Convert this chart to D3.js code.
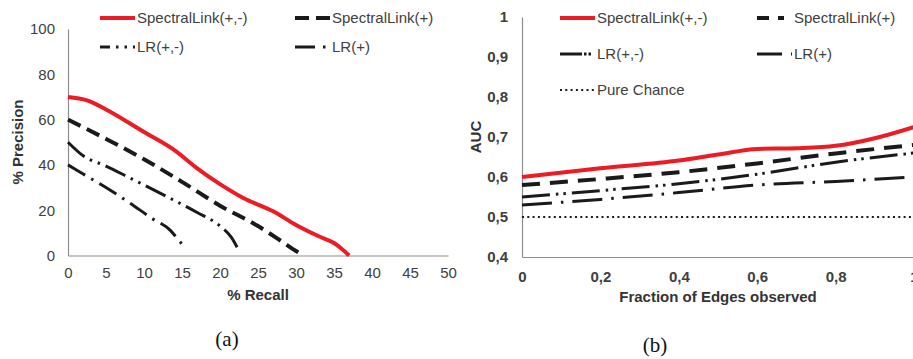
<!DOCTYPE html>
<html>
<head>
<meta charset="utf-8">
<script src="https://cdn.jsdelivr.net/npm/d3@7"></script>
<style>
  body { margin: 0; background: #fff; }
  svg { display: block; font-family: "Liberation Sans", Arial, sans-serif; }
</style>
</head>
<body>
<div id="chrt"></div>
<script>
// ---- data: (a) precision / recall ----
const recallTicks = [0, 5, 10, 15, 20, 25, 30, 35, 40, 45, 50];
const precisionTicks = [0, 20, 40, 60, 80, 100];
const prSpectralPM = [[0, 70], [2.5, 68.5], [5, 64.5], [10, 54.5], [14, 46.5], [17, 38.5], [20, 31.5], [23, 25.5], [27, 19.5], [30, 13.5], [33, 8.5], [35, 5.5], [36, 3], [37, 0]];
const prSpectralP = [[0, 60], [5, 51.5], [10, 42.5], [15, 32.5], [20, 22], [25, 13], [28, 6.5], [30, 2], [31, 0]];
const prLrPM = [[0, 50], [2, 44], [5, 39.5], [8, 34.5], [13, 26], [17, 19], [20, 13], [21.5, 8], [22.5, 2]];
const prLrP = [[0, 40], [2, 36], [5, 30], [8, 23.5], [11, 16.5], [13.5, 11], [14.5, 7], [15.5, 3]];

// ---- data: (b) AUC vs fraction of edges ----
const fracTicks = [0, 0.2, 0.4, 0.6, 0.8, 1];
const aucTicks = [0.4, 0.5, 0.6, 0.7, 0.8, 0.9, 1];
const aucSpectralPM = [[0, 0.6], [0.2, 0.622], [0.4, 0.641], [0.5, 0.656], [0.6, 0.67], [0.7, 0.672], [0.8, 0.678], [0.9, 0.697], [1, 0.725]];
const aucSpectralP = [[0, 0.58], [0.2, 0.595], [0.4, 0.612], [0.6, 0.634], [0.8, 0.659], [1, 0.68]];
const aucLrPM = [[0, 0.55], [0.2, 0.566], [0.4, 0.583], [0.6, 0.607], [0.8, 0.637], [1, 0.66]];
const aucLrP = [[0, 0.53], [0.2, 0.544], [0.4, 0.561], [0.6, 0.58], [0.8, 0.589], [1, 0.6]];
const aucChance = [[0, 0.5], [1, 0.5]];

const RED = '#ec1c24';
const BLK = '#1a1a1a';
const AXIS = '#8c8c8c';
const TXT = '#404040';

const svg = d3.select('#chrt').append('svg')
    .attr('width', 913)
    .attr('height', 359);

function drawPanel(cfg) {
  const g = svg.append('g');
  const xAxis = d3.axisBottom(cfg.x).tickValues(cfg.xTicks).tickSize(0).tickPadding(cfg.xPad).tickFormat(cfg.fmt);
  const yAxis = d3.axisLeft(cfg.y).tickValues(cfg.yTicks).tickSize(0).tickPadding(cfg.yPad).tickFormat(cfg.fmt);

  const gx = g.append('g').attr('transform', 'translate(0,' + cfg.y.range()[0] + ')').call(xAxis);
  const gy = g.append('g').attr('transform', 'translate(' + cfg.x.range()[0] + ',0)').call(yAxis);
  [gx, gy].forEach((a) => {
    a.select('.domain').attr('stroke', AXIS).attr('stroke-width', 1.2);
    a.selectAll('text')
        .attr('fill', TXT)
        .style('font-size', '15px')
        .style('font-family', '"Liberation Sans", Arial, sans-serif')
        .style('font-weight', cfg.boldTicks ? 'bold' : 'normal');
  });

  // lines
  g.selectAll('.series')
      .data(cfg.series)
      .enter()
      .append('path')
      .attr('fill', 'none')
      .attr('stroke', (d) => d.color)
      .attr('stroke-width', (d) => d.width)
      .attr('stroke-dasharray', (d) => d.dash)
      .attr('d', (d) => d3.line()
          .x((p) => cfg.x(p[0]))
          .y((p) => cfg.y(p[1]))
          .curve(d3.curveMonotoneX)(d.values));

  // legend
  cfg.series.forEach((s, i) => {
    const lx = cfg.legX[i % 2];
    const ly = cfg.legY[Math.floor(i / 2)];
    g.append('line')
        .attr('x1', lx).attr('x2', lx + 35)
        .attr('y1', ly).attr('y2', ly)
        .attr('stroke', s.color)
        .attr('stroke-width', s.width)
        .attr('stroke-dasharray', s.legDash || s.dash);
    g.append('text')
        .attr('x', lx + 37)
        .attr('y', ly + 5)
        .attr('fill', TXT)
        .style('font-size', '15px')
        .text(s.name);
  });

  // axis titles
  g.append('text')
      .attr('x', cfg.xTitle[0]).attr('y', cfg.xTitle[1])
      .attr('text-anchor', 'middle')
      .attr('fill', '#333')
      .style('font-size', '15px').style('font-weight', 'bold')
      .text(cfg.xLabel);
  g.append('text')
      .attr('transform', 'translate(' + cfg.yTitle[0] + ',' + cfg.yTitle[1] + ') rotate(-90)')
      .attr('text-anchor', 'middle')
      .attr('fill', '#333')
      .style('font-size', '15px').style('font-weight', 'bold')
      .text(cfg.yLabel);

  g.append('text')
      .attr('x', cfg.caption[0]).attr('y', cfg.caption[1])
      .attr('text-anchor', 'middle')
      .attr('fill', '#111')
      .style('font-family', '"Liberation Serif", "DejaVu Serif", serif')
      .style('font-size', '21px')
      .text(cfg.captionText);
}

// (a)
drawPanel({
  x: d3.scaleLinear().domain([0, 50]).range([68, 448]),
  y: d3.scaleLinear().domain([0, 100]).range([255.5, 29]),
  xTicks: recallTicks, yTicks: precisionTicks,
  fmt: (v) => String(v), xPad: 12, yPad: 13, boldTicks: false,
  series: [
    { name: 'SpectralLink(+,-)', values: prSpectralPM, color: RED, width: 4, dash: null },
    { name: 'SpectralLink(+)', values: prSpectralP, color: BLK, width: 4, dash: '14,7' },
    { name: 'LR(+,-)', values: prLrPM, color: BLK, width: 3, dash: '22,6,2.5,6,2.5,6', legDash: '10,6,2.5,6,2.5,6' },
    { name: 'LR(+)', values: prLrP, color: BLK, width: 3, dash: '20,7,2.5,7', legDash: '20,8,2.5,7' },
  ],
  legX: [100, 295], legY: [18, 47],
  xLabel: '% Recall', xTitle: [258, 300],
  yLabel: '%  Precision', yTitle: [23, 142],
  caption: [227, 346], captionText: '(a)',
});

// (b)
const commaFmt = (v) => String(+v.toFixed(1)).replace('.', ',');
drawPanel({
  x: d3.scaleLinear().domain([0, 1]).range([522, 914]),
  y: d3.scaleLinear().domain([0.4, 1]).range([257, 17]),
  xTicks: fracTicks, yTicks: aucTicks,
  fmt: commaFmt, xPad: 14, yPad: 14, boldTicks: true,
  series: [
    { name: 'SpectralLink(+,-)', values: aucSpectralPM, color: RED, width: 4, dash: null },
    { name: 'SpectralLink(+)', values: aucSpectralP, color: BLK, width: 4, dash: '18,10', legDash: '12,9,6,9' },
    { name: 'LR(+,-)', values: aucLrPM, color: BLK, width: 3, dash: '28,6,2.5,5,2.5,6', legDash: '22,2,2.5,2,2.5,6' },
    { name: 'LR(+)', values: aucLrP, color: BLK, width: 3, dash: '30,9,2.5,9', legDash: '25,9,2.5,9' },
    { name: 'Pure Chance', values: aucChance, color: BLK, width: 2, dash: '2,3.3' },
  ],
  legX: [560, 757], legY: [18, 54, 90],
  xLabel: 'Fraction of Edges observed', xTitle: [718, 302],
  yLabel: 'AUC', yTitle: [481, 137],
  caption: [655, 352], captionText: '(b)',
});
</script>
</body>
</html>
